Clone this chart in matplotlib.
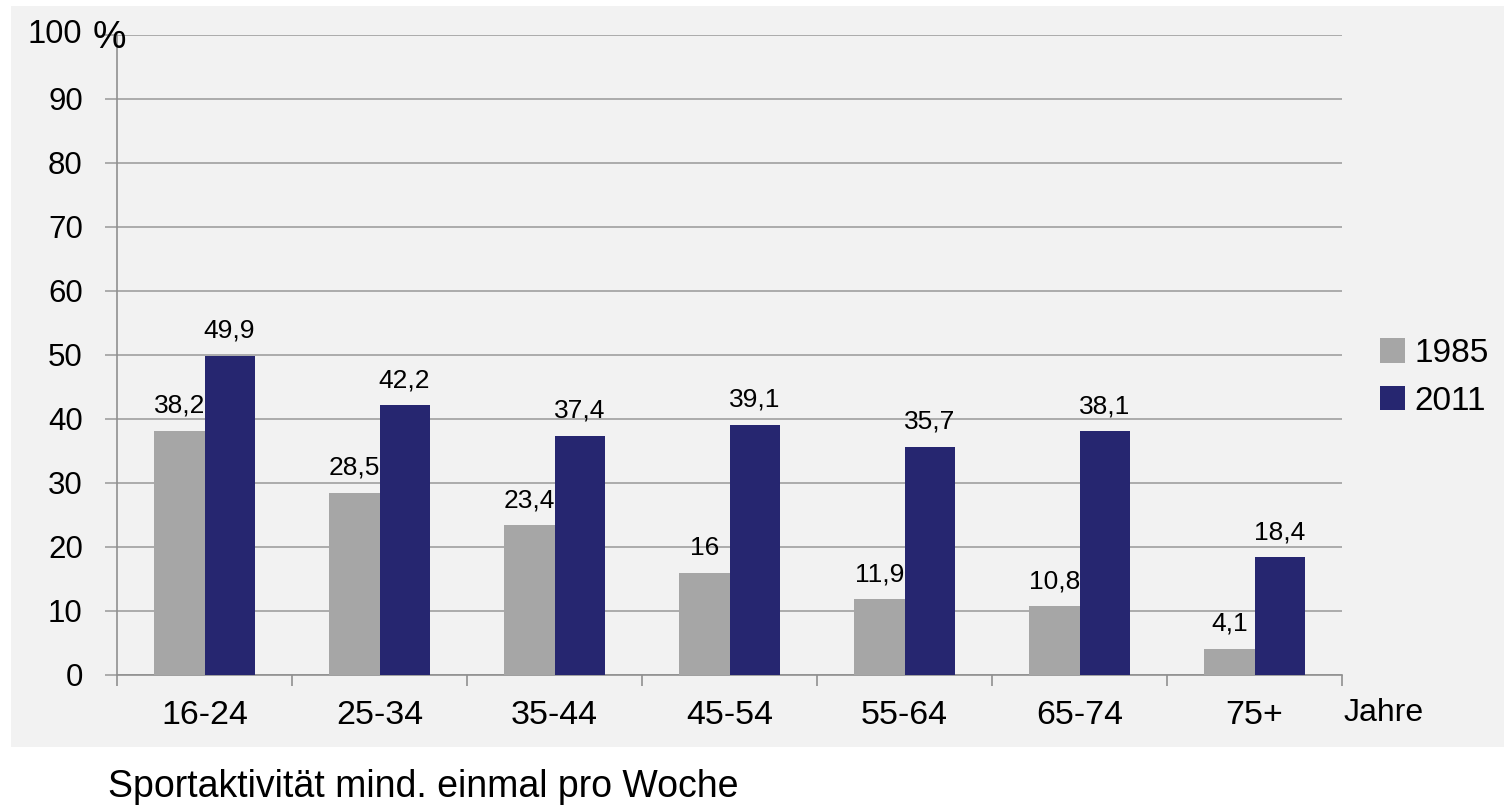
import matplotlib
matplotlib.use("Agg")
import matplotlib.pyplot as plt
import numpy as np
from matplotlib.patches import Rectangle

plt.rcParams['font.family'] = ['Liberation Sans', 'DejaVu Sans']

categories = ["16-24", "25-34", "35-44", "45-54", "55-64", "65-74", "75+"]
series_1985 = [38.2, 28.5, 23.4, 16.0, 11.9, 10.8, 4.1]
series_2011 = [49.9, 42.2, 37.4, 39.1, 35.7, 38.1, 18.4]
labels_1985 = ["38,2", "28,5", "23,4", "16", "11,9", "10,8", "4,1"]
labels_2011 = ["49,9", "42,2", "37,4", "39,1", "35,7", "38,1", "18,4"]
y_ticks = [0, 10, 20, 30, 40, 50, 60, 70, 80, 90, 100]

W, H = 1505, 808
fig = plt.figure(figsize=(W / 100, H / 100), dpi=100)
fig.patch.set_facecolor("white")

# light grey panel behind the chart
fig.patches.append(Rectangle((11 / W, 1 - 747 / H), (1504 - 11) / W, (747 - 6) / H,
                             transform=fig.transFigure, facecolor="#f2f2f2",
                             edgecolor="none", zorder=-10))

left, right, top, bottom = 117, 1342, 35, 675
ax = fig.add_axes([left / W, 1 - bottom / H, (right - left) / W, (bottom - top) / H])
ax.set_facecolor("none")

x = np.arange(len(categories))
bw = 0.286
c85 = "#a6a6a6"
c11 = "#262670"
ax.bar(x - bw / 2, series_1985, bw, color=c85, label="1985", zorder=3)
ax.bar(x + bw / 2, series_2011, bw, color=c11, label="2011", zorder=3)

for xi, v, t in zip(x, series_1985, labels_1985):
    ax.text(xi - bw / 2, v + 2.0, t, ha="center", va="bottom", fontsize=19, zorder=4)
for xi, v, t in zip(x, series_2011, labels_2011):
    ax.text(xi + bw / 2, v + 2.0, t, ha="center", va="bottom", fontsize=19, zorder=4)

ax.set_xlim(-0.5, len(categories) - 0.5)
ax.set_ylim(0, 100)
ax.set_yticks(y_ticks)
ax.set_yticklabels([str(t) if t != 100 else "" for t in y_ticks], fontsize=22.5)
ax.yaxis.grid(True, color="#a0a0a0", linewidth=1.2, zorder=1)
ax.set_axisbelow(True)
ax.tick_params(axis="y", length=8.6, color="#a0a0a0", width=1.2, pad=16)

ax.set_xticks(np.arange(len(categories) + 1) - 0.5, minor=False)
ax.set_xticklabels([""] * (len(categories) + 1))
ax.tick_params(axis="x", length=8, color="#909090", width=1.2, direction="out")
for xi, c in zip(x, categories):
    ax.text(xi, -3.9, c, ha="center", va="top", fontsize=24.5)
ax.text(len(categories) - 0.5 + 0.01, -3.6, "Jahre", ha="left", va="top", fontsize=23)

ax.text(-0.70, 100, "100", ha="right", va="center", fontsize=23.5)
ax.text(-0.64, 99.5, "%", ha="left", va="center", fontsize=27, zorder=5)

for s in ["top", "right"]:
    ax.spines[s].set_visible(False)
ax.spines["left"].set_color("#909090")
ax.spines["bottom"].set_color("#909090")
ax.spines["left"].set_linewidth(1.2)
ax.spines["bottom"].set_linewidth(1.2)

ax.legend(loc="center left", bbox_to_anchor=(1.02, 0.465), frameon=False,
          fontsize=24, handlelength=0.75, handleheight=0.75, handletextpad=0.3,
          labelspacing=0.5, borderaxespad=0)

fig.text(108 / W, 1 - 787 / H, "Sportaktivität mind. einmal pro Woche",
         ha="left", va="center", fontsize=27)

fig.savefig("out.png", dpi=100, facecolor=fig.get_facecolor())
